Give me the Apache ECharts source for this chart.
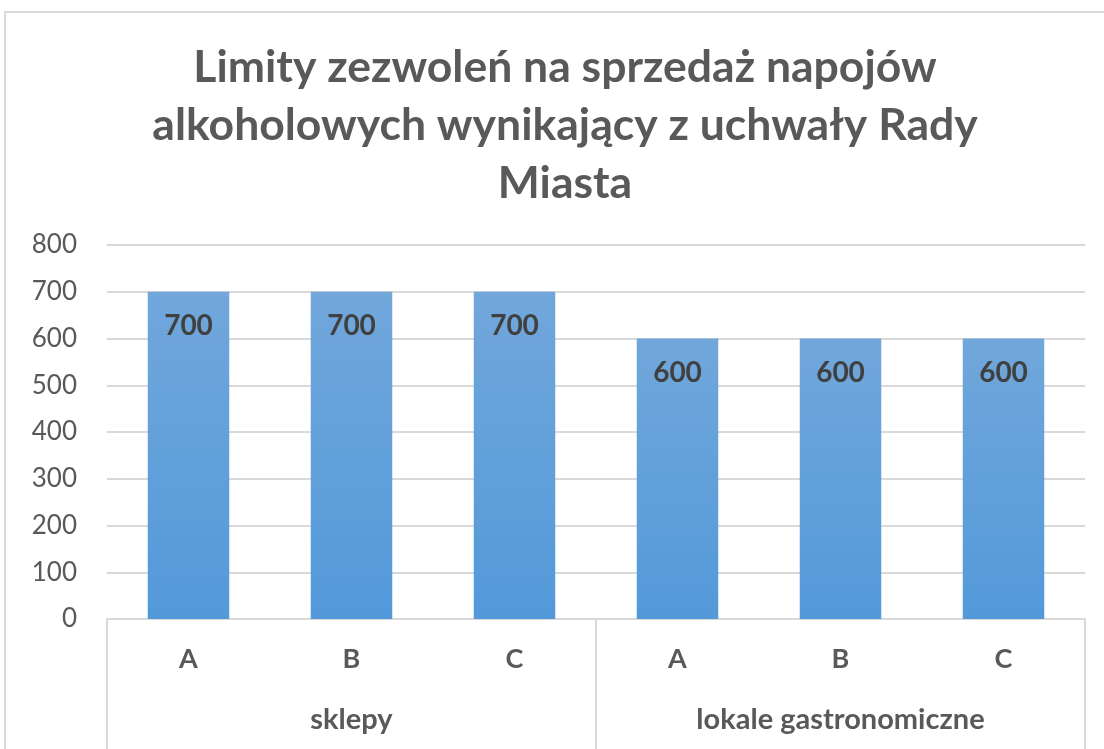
<!DOCTYPE html>
<html>
<head>
<meta charset="utf-8">
<script src="https://cdn.jsdelivr.net/npm/echarts@6/dist/echarts.min.js"></script>
<style>
  html, body { margin: 0; padding: 0; background: #fff; }
  #myChart { width: 1104px; height: 749px; }
</style>
</head>
<body>
<div id="myChart"></div>
<script>
// dane z wykresu
const groups = ['sklepy', 'lokale gastronomiczne']
const subCategories = ['A', 'B', 'C', 'A', 'B', 'C']
const values = [700, 700, 700, 600, 600, 600]
const yTicks = [0, 100, 200, 300, 400, 500, 600, 700, 800]

const grey = '#595959'
const lineGrey = '#d9d9d9'

const myChart = echarts.init(document.getElementById('myChart'))
myChart.setOption({
  animation: false,
  textStyle: { fontFamily: 'Lato' },
  graphic: [
    {
      type: 'rect',
      shape: { x: 5, y: 12, width: 1200, height: 800 },
      style: { fill: 'none', stroke: lineGrey, lineWidth: 2 },
      silent: true
    }
  ],
  title: {
    text: 'Limity zezwoleń na sprzedaż napojów\nalkoholowych wynikający z uchwały Rady\nMiasta',
    left: 560,
    top: 34,
    textAlign: 'center',
    textStyle: {
      fontFamily: 'Lato',
      fontSize: 44.5,
      fontWeight: 'bold',
      color: grey,
      lineHeight: 58
    }
  },
  grid: {
    left: 107,
    right: 19,
    top: 245,
    bottom: 130,
    containLabel: false
  },
  xAxis: [
    {
      type: 'category',
      data: subCategories,
      axisLine: { lineStyle: { color: lineGrey, width: 2 } },
      axisTick: { show: false },
      axisLabel: {
        margin: 27,
        fontSize: 27,
        fontWeight: 'bold',
        color: grey
      }
    },
    {
      type: 'category',
      position: 'bottom',
      data: groups,
      axisLine: { show: false },
      axisTick: {
        show: true,
        length: 135,
        lineStyle: { color: lineGrey, width: 2 }
      },
      axisLabel: {
        margin: 86,
        fontSize: 29,
        fontWeight: 'bold',
        color: grey
      }
    }
  ],
  yAxis: {
    type: 'value',
    min: yTicks[0],
    max: yTicks[yTicks.length - 1],
    interval: yTicks[1] - yTicks[0],
    axisLine: { show: false },
    axisTick: { show: false },
    splitLine: { lineStyle: { color: lineGrey, width: 2 } },
    axisLabel: {
      margin: 30,
      fontSize: 26,
      color: grey
    }
  },
  series: [
    {
      type: 'bar',
      xAxisIndex: 0,
      data: values,
      barWidth: '50%',
      itemStyle: {
        color: new echarts.graphic.LinearGradient(0, 0, 0, 1, [
          { offset: 0, color: '#71a7db' },
          { offset: 1, color: '#5399da' }
        ])
      },
      label: {
        show: true,
        position: 'insideTop',
        distance: 20,
        fontSize: 28,
        fontWeight: 'bold',
        color: '#404040'
      }
    }
  ]
})
</script>
</body>
</html>
